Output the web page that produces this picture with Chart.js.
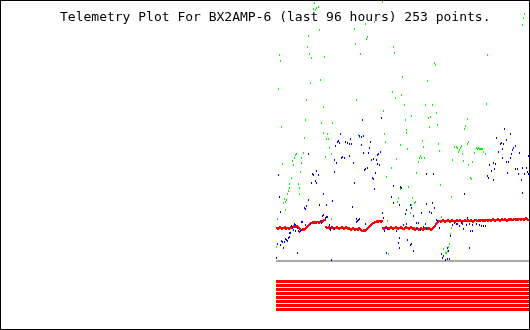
<!DOCTYPE html>
<html>
<head>
<meta charset="utf-8">
<script src="https://cdn.jsdelivr.net/npm/chart.js@4.4.1/dist/chart.umd.min.js"></script>
<style>
  body { margin: 0; background: #fff; }
  #frame { position: relative; width: 528px; height: 328px; border: 1px solid #000; }
  #title { position: absolute; left: 59px; top: 8px; font: 13px/15px 'DejaVu Sans Mono', monospace; white-space: pre; color: #000; }
  canvas { display: block; }
</style>
</head>
<body>
<div id="frame">
  <canvas id="plot" width="528" height="328"></canvas>
  <div id="title">Telemetry Plot For BX2AMP-6 (last 96 hours) 253 points.</div>
</div>
<script>
// 253 samples over the last 96 hours, one per point index
const sampleCount = 253;

// red channel, one value per sample
const redValues = [
  33,32,33,34,33,32,33,33,34,32,33,33,32,33,34,33,
  34,35,34,34,35,34,33,
  32,31,31,32,31,32,33,
  34,35,36,37,38,38,39,
  38,39,38,39,39,38,39,40,39,40,41,41,
  34,33,33,34,32,33,34,33,32,33,33,34,33,32,33,33,34,33,32,33,34,33,
  32,33,32,31,32,33,32,31,32,32,31,33,32,31,30,30,31,30,31,32,
  33,34,35,36,37,38,38,39,39,40,39,40,
  40,39,40,
  33,32,33,34,33,33,32,33,34,33,
  32,33,33,34,33,32,33,33,34,33,
  32,32,33,34,33,33,32,33,34,33,
  32,33,31,32,33,32,31,32,33,32,
  31,32,33,32,33,32,33,32,31,32,
  33,
  34,35,37,38,39,40,
  40,39,40,41,40,39,40,40,41,40,
  39,40,41,40,40,39,40,41,40,40,
  41,40,39,40,40,41,40,40,41,40,
  40,41,40,39,40,41,41,40,40,41,
  40,41,41,40,41,40,41,41,40,41,
  41,40,41,42,41,40,41,41,42,41,
  40,41,42,41,41,42,41,40,41,42,
  41,42,41,41,42,42,41,42,41,42,
  42,41,42,42,41,42,43,42,41
];

// blue channel (only the samples that fall inside the plot)
const blueIndex = [
  0,1,2,3,4,4,5,6,7,8,9,10,11,12,13,13,14,15,16,17,18,19,19,21,21,22,23,24,25,25,26,
  28,29,29,30,32,32,34,35,36,37,39,40,40,42,43,44,45,46,47,47,49,50,50,51,53,54,54,55,
  56,58,58,58,59,60,61,62,63,64,65,66,68,69,71,73,73,74,75,76,77,78,80,80,81,82,83,
  83,85,85,86,87,87,88,89,89,91,92,93,94,95,96,97,97,98,99,100,101,101,102,103,104,105,
  106,107,108,109,110,111,115,117,117,120,122,123,123,123,124,125,127,129,130,130,131,
  134,134,135,135,137,137,140,140,142,144,145,147,149,150,150,150,153,155,156,157,158,
  160,161,163,165,166,167,169,171,171,172,173,174,176,178,180,181,183,185,186,187,188,
  190,191,193,193,194,196,196,200,203,205,207,209,
  211,212,213,215,217,217,218,219,220,222,224,225,226,226,227,228,230,230,231,232,
  234,234,235,236,237,239,239,241,242,243,245,246,246,248,250,251,252,252
];
const blueValues = [
  3,17,86,64,49,16,20,19,13,19,22,21,20,23,28,24,28,35,33,31,37,30,36,8,33,30,29,30,31,39,39,
  53,52,36,55,107,61,37,78,87,86,80,78,90,86,56,40,38,45,67,46,43,44,56,44,36,33,31,1,
  60,89,101,32,115,98,119,120,118,127,103,104,103,119,118,117,105,122,117,54,98,78,42,39,40,41,42,
  125,124,116,141,125,108,91,92,37,93,108,113,119,101,83,102,82,72,88,101,106,97,107,96,109,143,
  48,43,30,33,8,32,64,75,58,30,18,23,13,56,74,73,36,47,51,37,21,
  56,16,53,17,45,10,38,32,38,31,48,34,37,32,87,57,49,48,58,87,53,
  41,40,33,7,3,5,1,13,2,10,2,25,36,38,37,37,35,38,37,32,67,
  36,43,37,13,30,30,36,37,36,35,35,35,
  85,83,96,90,98,81,92,97,123,109,117,118,112,103,117,132,121,99,88,99,
  127,103,107,111,113,115,92,92,87,108,81,93,68,87,93,89,105,87
];

// green channel (only the samples that fall inside the plot)
const greenIndex = [
  0,1,2,3,4,5,6,7,8,9,9,10,11,12,13,13,15,16,17,18,19,20,22,23,23,24,25,25,27,28,29,30,
  31,32,33,34,35,37,38,39,40,42,43,44,45,47,47,48,49,50,51,52,53,55,55,56,
  78,79,80,82,83,84,89,90,91,98,106,107,108,109,110,111,112,115,116,117,118,119,120,121,122,
  124,124,125,126,128,129,130,130,131,132,134,135,135,136,138,139,140,142,143,144,145,146,147,148,
  149,151,152,153,154,156,158,159,160,161,162,163,164,165,167,169,170,171,172,173,174,175,175,
  176,178,180,181,182,183,184,185,186,187,188,189,191,191,192,192,194,195,196,198,
  200,201,202,203,204,205,206,207,209,210,211,246,247,248
];
const greenValues = [
  14,42,172,206,200,134,97,58,62,59,51,61,67,70,77,73,83,100,96,103,106,107,77,73,67,89,103,98,108,123,141,161,
  214,225,207,178,203,252,258,251,253,254,231,181,138,154,128,204,104,122,127,122,113,107,42,138,
  232,217,161,126,124,207,237,222,224,239,259,150,127,119,84,40,7,93,169,214,208,163,102,59,63,
  72,116,166,184,156,141,131,128,112,74,48,145,56,63,58,59,88,99,103,105,103,120,114,103,
  156,180,143,134,144,156,198,196,148,136,117,110,76,44,12,8,8,10,14,17,27,33,64,
  101,114,114,113,109,111,113,115,107,100,132,135,142,117,119,96,83,82,99,108,
  113,112,113,112,112,112,112,109,107,157,206,236,243,247
];

// eight status bits shown as the stripes under the plot
const bitStates = [1, 1, 1, 1, 1, 1, 1, 1];

const redPts = redValues.map((v, i) => ({ x: i, y: v }));
const bluePts = blueIndex.map((x, i) => ({ x: x, y: blueValues[i] }));
const greenPts = greenIndex.map((x, i) => ({ x: x, y: greenValues[i] }));

function dot(color, w, h) {
  const c = document.createElement('canvas');
  c.width = w;
  c.height = h;
  const g = c.getContext('2d');
  g.fillStyle = color;
  g.fillRect(0, 0, w, h);
  return c;
}

function pointSet(data, color, w) {
  return {
    data: data,
    showLine: false,
    pointStyle: dot(color, w, 2),
    pointRadius: 1,
    clip: false
  };
}

const datasets = [
  pointSet(bluePts, '#0000ff', 1),
  pointSet(greenPts, '#00ff00', 1),
  pointSet(redPts, '#ff0000', 2),
  {
    // zero line
    data: [{ x: -0.5, y: 0 }, { x: sampleCount - 0.5, y: 0 }],
    showLine: true,
    borderColor: '#aaaaaa',
    borderWidth: 2,
    pointRadius: 0
  }
];

bitStates.forEach((on, k) => {
  if (!on) return;
  datasets.push({
    data: [{ x: -0.5, y: k }, { x: sampleCount - 0.5, y: k }],
    yAxisID: 'bits',
    showLine: true,
    borderColor: '#ff0000',
    borderWidth: 3,
    borderCapStyle: 'butt',
    pointRadius: 0
  });
});

// keep the tiny point bitmaps sharp
const crisp = {
  id: 'crisp',
  beforeDatasetsDraw(chart) {
    chart.ctx.imageSmoothingEnabled = false;
  }
};

new Chart(document.getElementById('plot'), {
  type: 'scatter',
  data: { datasets: datasets },
  plugins: [crisp],
  options: {
    responsive: false,
    animation: false,
    devicePixelRatio: 1,
    layout: { autoPadding: false, padding: { left: 275, right: 0, top: 0, bottom: 17 } },
    scales: {
      x: { type: 'linear', display: false, min: -0.5, max: sampleCount - 0.5 },
      y: { type: 'linear', display: false, min: -51, max: 260 },
      bits: { type: 'linear', display: false, min: -0.625, max: 77.125 }
    },
    plugins: {
      legend: { display: false },
      tooltip: { enabled: false },
      title: { display: false }
    }
  }
});
</script>
</body>
</html>
